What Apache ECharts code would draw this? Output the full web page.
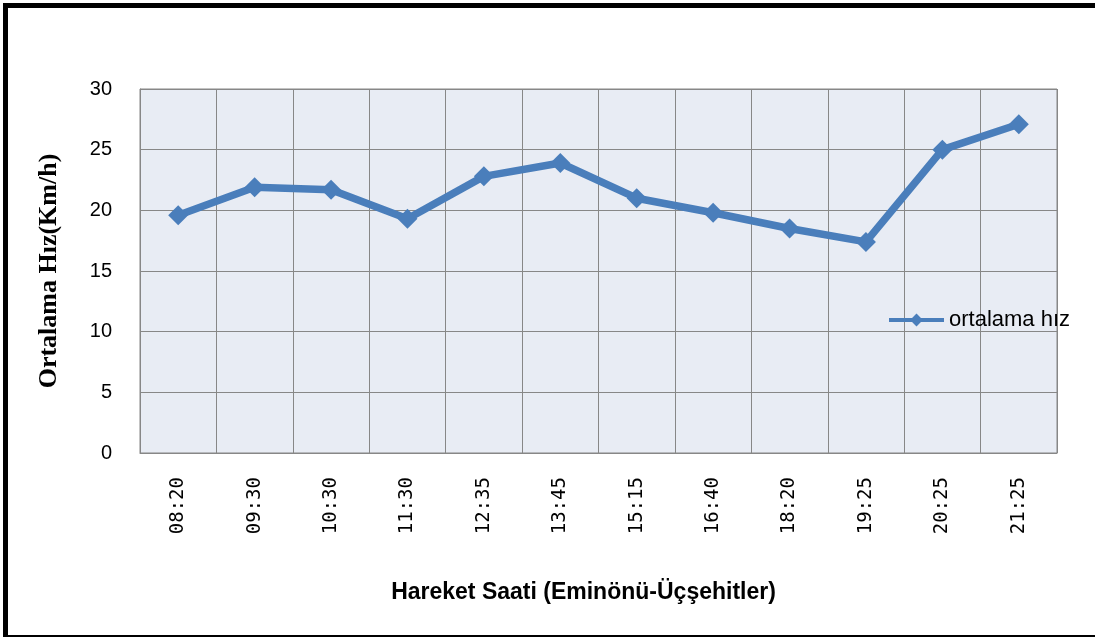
<!DOCTYPE html>
<html>
<head>
<meta charset="utf-8">
<title>Ortalama Hız</title>
<script src="https://cdn.jsdelivr.net/npm/echarts@6/dist/echarts.min.js"></script>
<style>
  html, body { margin: 0; padding: 0; background: #ffffff; }
  #chart { width: 1095px; height: 637px; }
</style>
</head>
<body>
<div id="chart"></div>
<script>
// Departure times (Eminönü-Üçşehitler) and mean speed in km/h
const departureTimes = ['08:20', '09:30', '10:30', '11:30', '12:35', '13:45',
                        '15:15', '16:40', '18:20', '19:25', '20:25', '21:25'];
const averageSpeed = [19.6, 21.9, 21.7, 19.3, 22.8, 23.9,
                      21.0, 19.8, 18.5, 17.4, 25.0, 27.1];
const seriesName = 'ortalama hız';
const yTicks = { min: 0, max: 30, interval: 5 };

const chart = echarts.init(document.getElementById('chart'));

const gridColor = '#878787';
const lineBlue = '#4A7EBB';

chart.setOption({
  animation: false,
  backgroundColor: '#ffffff',
  grid: {
    left: 140, right: 38, top: 89, bottom: 184,
    show: true,
    backgroundColor: '#E8ECF4',
    borderColor: gridColor,
    borderWidth: 1
  },
  legend: {
    data: [seriesName],
    left: 887, top: 309,
    padding: 0,
    itemWidth: 55, itemHeight: 16,
    itemGap: 4,
    lineStyle: { width: 4, color: lineBlue },
    itemStyle: { color: lineBlue },
    textStyle: { fontFamily: 'Liberation Sans', fontSize: 22, color: '#000000' }
  },
  xAxis: {
    type: 'category',
    data: departureTimes,
    boundaryGap: true,
    axisLine: { show: true, lineStyle: { color: gridColor, width: 1 } },
    axisTick: { show: false },
    splitLine: { show: true, lineStyle: { color: gridColor, width: 1 } },
    axisLabel: {
      rotate: 90, margin: 24, interval: 0,
      fontFamily: 'DejaVu Sans Mono', fontSize: 19, color: '#000000'
    },
    name: 'Hareket Saati (Eminönü-Üçşehitler)',
    nameLocation: 'middle',
    nameGap: 128,
    nameTextStyle: {
      fontFamily: 'Liberation Sans', fontWeight: 'bold', fontSize: 23, color: '#000000',
      padding: [0, 30, 0, 0]
    }
  },
  yAxis: {
    type: 'value',
    min: yTicks.min, max: yTicks.max, interval: yTicks.interval,
    axisLine: { show: true, lineStyle: { color: gridColor, width: 1 } },
    axisTick: { show: false },
    splitLine: { show: true, lineStyle: { color: gridColor, width: 1 } },
    axisLabel: { margin: 28, fontFamily: 'Liberation Sans', fontSize: 20, color: '#000000' },
    name: 'Ortalama Hız(Km/h)',
    nameLocation: 'middle',
    nameGap: 78,
    nameTextStyle: { fontFamily: 'Liberation Serif', fontWeight: 'bold', fontSize: 26, color: '#000000' }
  },
  series: [{
    name: seriesName,
    type: 'line',
    data: averageSpeed,
    symbol: 'diamond',
    symbolSize: 20,
    lineStyle: { color: lineBlue, width: 7.5 },
    itemStyle: { color: lineBlue },
    z: 3
  }],
  graphic: [
    // black frame: top, left and bottom edges
    { type: 'rect', shape: { x: 3, y: 3, width: 1092, height: 5 }, style: { fill: '#000000' }, silent: true },
    { type: 'rect', shape: { x: 3, y: 3, width: 5, height: 634 }, style: { fill: '#000000' }, silent: true },
    { type: 'rect', shape: { x: 3, y: 635, width: 1092, height: 2 }, style: { fill: '#000000' }, silent: true }
  ]
});
</script>
</body>
</html>
